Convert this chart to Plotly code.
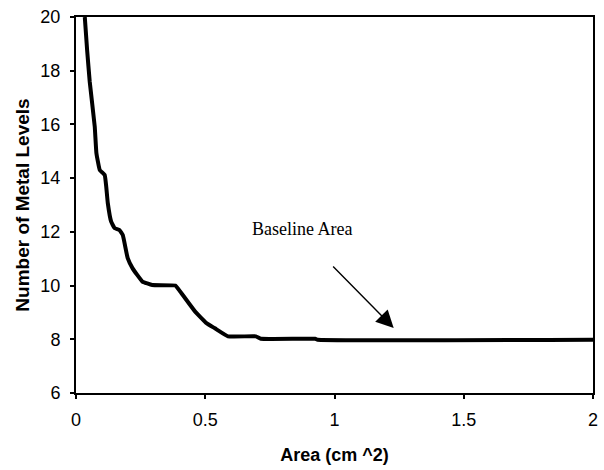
import plotly.graph_objects as go

# Data
area_cm2 = [0.034, 0.043, 0.053, 0.0725, 0.079, 0.092, 0.111, 0.117, 0.123, 0.136,
            0.149, 0.168, 0.181, 0.200, 0.219, 0.257, 0.295, 0.384, 0.403, 0.461,
            0.505, 0.537, 0.588, 0.696, 0.715, 0.925, 0.935, 2.0]
metal_levels = [20.0, 18.77, 17.6, 15.92, 14.93, 14.3, 14.12, 13.68, 13.07, 12.38,
                12.14, 12.07, 11.88, 11.02, 10.64, 10.15, 10.02, 10.0, 9.78, 9.03,
                8.6, 8.41, 8.11, 8.11, 8.02, 8.02, 7.98, 7.98]

x_ticks = [0, 0.5, 1, 1.5, 2]
x_tick_labels = ["0", "0.5", "1", "1.5", "2"]
y_ticks = [6, 8, 10, 12, 14, 16, 18, 20]
y_tick_labels = ["6", "8", "10", "12", "14", "16", "18", "20"]

annotation_text = "Baseline Area"

fig = go.Figure()
fig.add_trace(go.Scatter(
    x=area_cm2, y=metal_levels, mode="lines",
    line=dict(color="black", width=4, shape="spline", smoothing=0.3),
    showlegend=False,
))

fig.add_annotation(
    x=0.874, y=12.11, xref="x", yref="y", text=annotation_text, showarrow=False,
    font=dict(family="Liberation Serif", size=18, color="black"),
)
fig.add_annotation(
    x=1.229, y=8.42, ax=0.989, ay=10.77, xref="x", yref="y", axref="x", ayref="y",
    text="", showarrow=True, arrowhead=2, arrowsize=2.5, arrowwidth=1.4,
    arrowcolor="black",
)

axis_common = dict(
    showline=True, linecolor="black", linewidth=2, mirror=True,
    ticks="outside", ticklen=4, tickwidth=1.5, tickcolor="black",
    showgrid=False, zeroline=False,
    tickfont=dict(family="Liberation Sans", size=18, color="black"),
)

fig.update_xaxes(
    range=[0, 2], tickvals=x_ticks, ticktext=x_tick_labels,
    ticklabeloverflow="allow", ticklabelstandoff=5,
    title=dict(text="<b>Area (cm ^2)</b>", standoff=20,
               font=dict(family="Liberation Sans", size=18, color="black")),
    **axis_common,
)
fig.update_yaxes(
    range=[6, 20], tickvals=y_ticks, ticktext=y_tick_labels,
    ticklabelstandoff=6,
    title=dict(text="<b>Number of Metal Levels</b>", standoff=6,
               font=dict(family="Liberation Sans", size=19, color="black")),
    **axis_common,
)

fig.update_layout(
    width=604, height=470,
    margin=dict(l=76, r=6, t=17, b=77),
    plot_bgcolor="white", paper_bgcolor="white",
)

fig.write_html(
    "out.html",
    config={"displayModeBar": False},
    post_script="document.body.style.margin='0';document.body.style.overflow='hidden';",
)
